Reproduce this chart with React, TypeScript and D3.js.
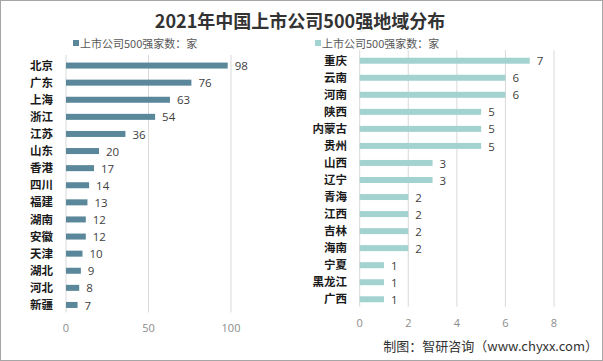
import React from "react";
import * as d3 from "d3";

const leftNames = ["北京", "广东", "上海", "浙江", "江苏", "山东", "香港", "四川", "福建", "湖南", "安徽", "天津", "湖北", "河北", "新疆"];
const leftValues = [98, 76, 63, 54, 36, 20, 17, 14, 13, 12, 12, 10, 9, 8, 7];
const leftTicks = [0, 50, 100];

const rightNames = ["重庆", "云南", "河南", "陕西", "内蒙古", "贵州", "山西", "辽宁", "青海", "江西", "吉林", "海南", "宁夏", "黑龙江", "广西"];
const rightValues = [7, 6, 6, 5, 5, 5, 3, 3, 2, 2, 2, 2, 1, 1, 1];
const rightTicks = [0, 2, 4, 6, 8];

const seriesName = "上市公司500强家数：家";
const W = 603;
const H = 361;
const cjk = "'Noto Sans CJK SC', 'Noto Sans', sans-serif";
const num = "'Open Sans', 'Noto Sans', sans-serif";

type PanelProps = {
  names: string[];
  values: number[];
  ticks: number[];
  x0: number;
  x1: number;
  dmax: number;
  top: number;
  bottom: number;
  labelX: number;
  tickY: number;
  color: string;
};

function Panel({ names, values, ticks, x0, x1, dmax, top, bottom, labelX, tickY, color }: PanelProps) {
  const x = d3.scaleLinear().domain([0, dmax]).range([x0, x1]);
  const y = d3.scaleBand<string>().domain(names).range([top, bottom]);
  const bh = 6;
  return (
    <g>
      {ticks.map((t) => (
        <g key={t}>
          <line x1={x(t)} x2={x(t)} y1={top - 2} y2={bottom - 1} stroke="#d9d9d9" strokeWidth={1} />
          <text x={x(t)} y={tickY} textAnchor="middle" fontFamily={num} fontSize={11} fill="#8c8c8c">
            {t}
          </text>
        </g>
      ))}
      {names.map((n, i) => {
        const cy = (y(n) as number) + y.bandwidth() / 2;
        return (
          <g key={n}>
            <text x={labelX} y={cy} dy="0.36em" textAnchor="end" fontFamily={cjk} fontWeight={700} fontSize={11.5} fill="#1a1a1a">
              {n}
            </text>
            <rect x={x(0)} y={cy - bh / 2} width={x(values[i]) - x(0)} height={bh} fill={color} />
            <text x={x(values[i]) + 7} y={cy} dy="0.4em" fontFamily={num} fontSize={11.5} fill="#404040">
              {values[i]}
            </text>
          </g>
        );
      })}
    </g>
  );
}

export default function App() {
  return (
    <svg width={W} height={H} style={{ position: "absolute", left: 0, top: 0, display: "block", background: "#fff" }}>
      <rect x={0.5} y={0.5} width={W - 1} height={H - 1} fill="#fff" stroke="#a6a6a6" />
      <text x={300} y={28} textAnchor="middle" fontFamily={cjk} fontWeight={700} fontSize={18} fill="#333">
        2021年中国上市公司500强地域分布
      </text>
      <rect x={73} y={40} width={6} height={6} fill="#5a8799" />
      <text x={80} y={47.5} fontFamily={cjk} fontSize={11} fill="#595959">
        {seriesName}
      </text>
      <rect x={315} y={40} width={6} height={6} fill="#a3d3d0" />
      <text x={322} y={47.5} fontFamily={cjk} fontSize={11} fill="#595959">
        {seriesName}
      </text>
      <Panel
        names={leftNames}
        values={leftValues}
        ticks={leftTicks}
        x0={66}
        x1={231}
        dmax={100}
        top={57}
        bottom={313.5}
        labelX={53}
        tickY={332}
        color="#5a8799"
      />
      <Panel
        names={rightNames}
        values={rightValues}
        ticks={rightTicks}
        x0={359.7}
        x1={554}
        dmax={8}
        top={52.2}
        bottom={307.8}
        labelX={347}
        tickY={327}
        color="#a3d3d0"
      />
      <text x={598} y={351} textAnchor="end" fontFamily={cjk} fontSize={13} fill="#333">
        制图：智研咨询（www.chyxx.com）
      </text>
    </svg>
  );
}
